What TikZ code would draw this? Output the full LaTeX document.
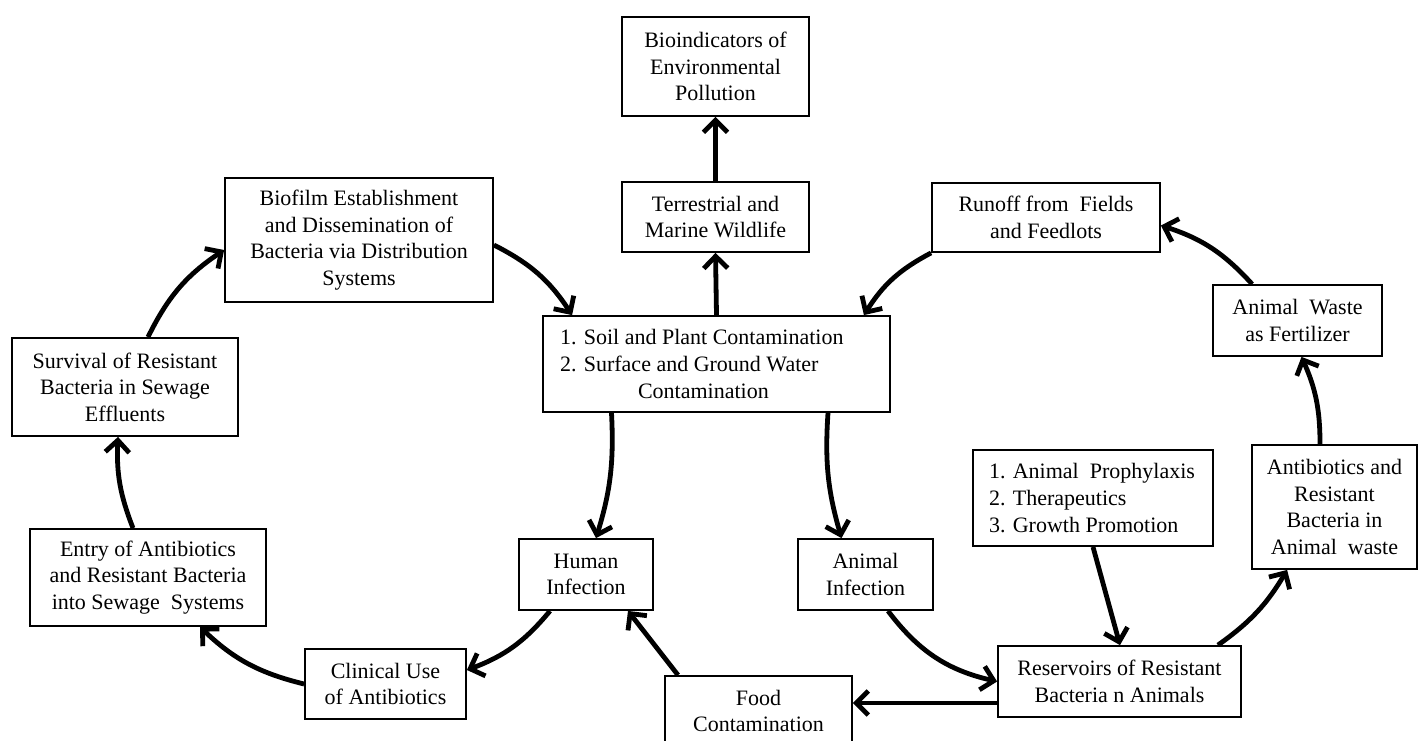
\documentclass[tikz,border=0pt]{standalone}
\usepackage{fontspec}
\setmainfont{Liberation Serif}
\usetikzlibrary{arrows.meta,calc}
\begin{document}
\begin{tikzpicture}[x=0.5pt,y=-0.5pt,
 box/.style={draw,line width=0.9pt,inner sep=0pt,align=center,font=\fontsize{11}{13.3}\selectfont},
 arr/.style={line width=2.4pt,-{Straight Barb[length=6pt,width=12pt]}}]
\useasboundingbox[fill=white] (0,0) rectangle (1419,740);
\node[box,minimum width=93.5pt,minimum height=49.5pt] (bio) at (715.5,66.5) {Bioindicators of\\Environmental\\Pollution};
\node[box,minimum width=93.5pt,minimum height=35pt] (ter) at (715.5,217) {Terrestrial and\\Marine Wildlife};
\node[box,minimum width=134pt,minimum height=62pt] (biof) at (359,240) {Biofilm Establishment\\and Dissemination of\\Bacteria via Distribution\\Systems};
\node[box,minimum width=114pt,minimum height=34.5pt] (run) at (1046,217.5) {Runoff from\ \ Fields\\and Feedlots};
\node[box,minimum width=173.5pt,minimum height=48pt,align=flush left,inner xsep=8.5pt,text width=156.5pt] (main) at (716.5,364) {1. Soil and Plant Contamination\\2. Surface and Ground Water\\\hspace*{39pt}Contamination};
\node[box,minimum width=84.5pt,minimum height=35.5pt] (aw) at (1297.5,320.5) {Animal\ \ Waste\\as Fertilizer};
\node[box,minimum width=113pt,minimum height=49pt] (surv) at (125,387) {Survival of Resistant\\Bacteria in Sewage\\Effluents};
\node[box,minimum width=118pt,minimum height=48.5pt] (entry) at (148,577.5) {Entry of Antibiotics\\and Resistant Bacteria\\into Sewage\ \ Systems};
\node[box,minimum width=67pt,minimum height=35.5pt] (hum) at (586,574.5) {Human\\Infection};
\node[box,minimum width=67.5pt,minimum height=35.5pt] (ani) at (865.5,574.5) {Animal\\Infection};
\node[box,minimum width=120pt,minimum height=48pt,align=flush left,inner xsep=8pt,text width=104pt] (pro) at (1093,498) {1. Animal\ \ Prophylaxis\\2. Therapeutics\\3. Growth Promotion};
\node[box,minimum width=82.5pt,minimum height=62pt] (abx) at (1334.5,507) {Antibiotics and\\Resistant\\Bacteria in\\Animal\ \ waste};
\node[box,minimum width=80.5pt,minimum height=35pt] (clin) at (385.5,684) {Clinical Use\\of Antibiotics};
\node[box,minimum width=93.5pt,minimum height=35pt] (food) at (758.5,711) {Food\\Contamination};
\node[box,minimum width=121.5pt,minimum height=35.5pt] (res) at (1119.5,681.5) {Reservoirs of Resistant\\Bacteria n Animals};

\draw[arr] (main.north) -- (ter.south);
\draw[arr] (ter.north) -- (bio.south);
\draw[arr] ($(biof.east)+(0,5)$) to[bend left=15] ($(main.north west)+(30,0)$);
\draw[arr] (run.south west) to[bend right=15] ($(main.north east)+(-27,0)$);
\draw[arr] ($(aw.north west)+(40,0)$) to[bend right=15] ($(run.east)+(0,8)$);
\draw[arr] ($(abx.north)+(-14.5,0)$) to[bend right=12] ($(aw.south)+(4,0)$);
\draw[arr] ($(res.north east)+(-24,0)$) to[bend right=12] ($(abx.south west)+(36,0)$);
\draw[arr] (pro.south) -- ($(res.north)+(0.5,0)$);
\draw[arr] ($(ani.south)+(22.5,0)$) to[bend right=20] (res.west);
\coordinate (r1) at ($(res.west)+(0,21.5)$);
\draw[arr] (r1) -- (r1 -| food.east);
\draw[arr] ($(food.north)+(-80.5,0)$) -- ($(hum.south)+(42,0)$);
\draw[arr] ($(hum.south)+(-36,0)$) to[bend left=15] ($(clin.east)+(0,-14)$);
\draw[arr] (clin.west) to[bend left=15] ($(entry.south)+(52,0)$);
\draw[arr] ($(entry.north)+(-15,0)$) to[bend left=12] ($(surv.south)+(-7,0)$);
\draw[arr] ($(surv.north)+(23,0)$) to[bend left=15] ($(biof.west)+(0,10)$);
\draw[arr] ($(main.south)+(-105,0)$) to[bend left=10] ($(hum.north)+(10,0)$);
\draw[arr] ($(main.south)+(111.5,0)$) to[bend right=10] ($(ani.north)+(-24,0)$);
\end{tikzpicture}
\end{document}
